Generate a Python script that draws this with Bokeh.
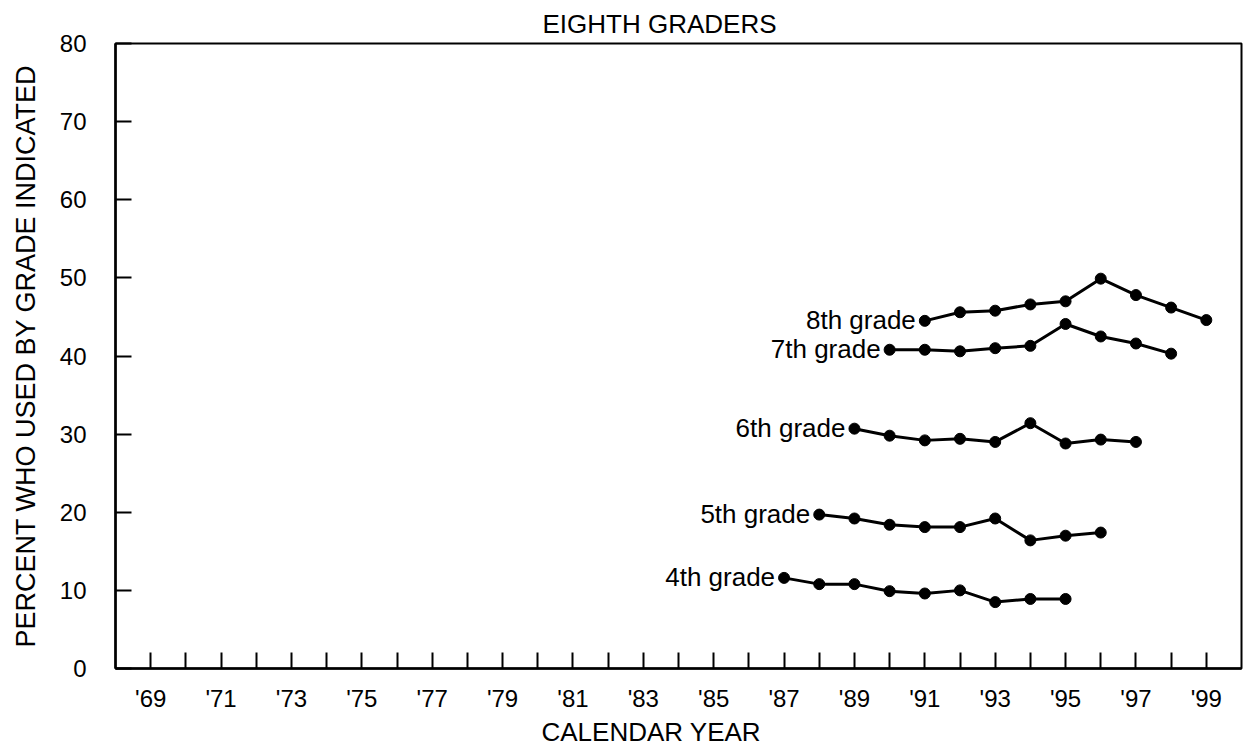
from bokeh.plotting import figure
from bokeh.models import Range1d, FixedTicker, ColumnDataSource, Title
from bokeh.core.properties import value
from bokeh.embed import file_html
from bokeh.resources import INLINE

# ---------------- data ----------------
title_text = "EIGHTH GRADERS"
x_title = "CALENDAR YEAR"
y_title = "PERCENT WHO USED BY GRADE INDICATED"

tick_years = [1969, 1970, 1971, 1972, 1973, 1974, 1975, 1976, 1977, 1978,
              1979, 1980, 1981, 1982, 1983, 1984, 1985, 1986, 1987, 1988,
              1989, 1990, 1991, 1992, 1993, 1994, 1995, 1996, 1997, 1998, 1999]
label_years = [1969, 1971, 1973, 1975, 1977, 1979, 1981, 1983, 1985, 1987,
               1989, 1991, 1993, 1995, 1997, 1999]
tick_labels = ["'69", "'71", "'73", "'75", "'77", "'79", "'81", "'83", "'85",
               "'87", "'89", "'91", "'93", "'95", "'97", "'99"]
y_ticks = [0, 10, 20, 30, 40, 50, 60, 70, 80]

grade_names = ["4th grade", "5th grade", "6th grade", "7th grade", "8th grade"]

years_4th = [1987, 1988, 1989, 1990, 1991, 1992, 1993, 1994, 1995]
vals_4th = [11.6, 10.8, 10.8, 9.9, 9.6, 10.0, 8.5, 8.9, 8.9]

years_5th = [1988, 1989, 1990, 1991, 1992, 1993, 1994, 1995, 1996]
vals_5th = [19.7, 19.2, 18.4, 18.1, 18.1, 19.2, 16.4, 17.0, 17.4]

years_6th = [1989, 1990, 1991, 1992, 1993, 1994, 1995, 1996, 1997]
vals_6th = [30.7, 29.8, 29.2, 29.4, 29.0, 31.4, 28.8, 29.3, 29.0]

years_7th = [1990, 1991, 1992, 1993, 1994, 1995, 1996, 1997, 1998]
vals_7th = [40.8, 40.8, 40.6, 41.0, 41.3, 44.1, 42.5, 41.6, 40.3]

years_8th = [1991, 1992, 1993, 1994, 1995, 1996, 1997, 1998, 1999]
vals_8th = [44.5, 45.6, 45.8, 46.6, 47.0, 49.9, 47.8, 46.2, 44.6]

series_years = [years_4th, years_5th, years_6th, years_7th, years_8th]
series_vals = [vals_4th, vals_5th, vals_6th, vals_7th, vals_8th]

FONT = "Liberation Sans"

# ---------------- figure ----------------
p = figure(width=1248, height=746,
           x_range=Range1d(1968, 2000), y_range=Range1d(0, 80),
           output_backend="svg", toolbar_location=None,
           min_border_left=115, min_border_right=7,
           min_border_top=43, min_border_bottom=78)

p.background_fill_color = "white"
p.border_fill_color = "white"
p.outline_line_color = "black"
p.outline_line_width = 2
p.xgrid.visible = False
p.ygrid.visible = False

p.title.text = title_text
p.title.align = "left"
p.title.offset = 427
p.title.standoff = 10
p.title.text_font = FONT
p.title.text_font_size = "26px"
p.title.text_font_style = "normal"
p.title.text_color = "black"

# x axis title as a title panel below the axis
xt = Title(text=x_title, align="left", offset=426, standoff=0,
           text_font=FONT, text_font_size="26px", text_font_style="normal",
           text_color="black")
p.add_layout(xt, "below")

# x axis
xa = p.xaxis[0]
xa.ticker = FixedTicker(ticks=tick_years)
overrides = {y: "" for y in tick_years}
for yr, lab in zip(label_years, tick_labels):
    overrides[yr] = lab
xa.major_label_overrides = overrides
xa.major_tick_in = 16
xa.major_tick_out = 0
xa.minor_tick_line_color = None
xa.major_tick_line_width = 2
xa.major_tick_line_color = "black"
xa.axis_line_width = 2.5
xa.axis_line_color = "black"
xa.major_label_standoff = 16
xa.major_label_text_font = FONT
xa.major_label_text_font_size = "24px"
xa.major_label_text_color = "black"

# y axis
ya = p.yaxis[0]
ya.ticker = FixedTicker(ticks=y_ticks)
ya.major_tick_in = 16
ya.major_tick_out = 0
ya.minor_tick_line_color = None
ya.major_tick_line_width = 2
ya.major_tick_line_color = "black"
ya.axis_line_width = 2.5
ya.axis_line_color = "black"
ya.major_label_standoff = 29
ya.major_label_text_font = FONT
ya.major_label_text_font_size = "24px"
ya.major_label_text_color = "black"
ya.axis_label = y_title
ya.axis_label_standoff = 16
ya.axis_label_text_font = FONT
ya.axis_label_text_font_size = "27px"
ya.axis_label_text_font_style = "normal"
ya.axis_label_text_color = "black"

# series
for yrs, vals in zip(series_years, series_vals):
    src = ColumnDataSource(dict(x=yrs, y=vals))
    p.line("x", "y", source=src, line_color="black", line_width=3)
    p.scatter("x", "y", source=src, size=11, fill_color="black",
              line_color="black")

lab_src = ColumnDataSource(dict(
    x=[yrs[0] for yrs in series_years],
    y=[vals[0] for vals in series_vals],
    t=grade_names))
p.text("x", "y", text="t", source=lab_src, text_align="right",
       text_baseline="middle", x_offset=-9, y_offset=-1,
       text_font=value(FONT), text_font_size="26px", text_color="black")

open("out.html", "w").write(file_html(p, INLINE))
